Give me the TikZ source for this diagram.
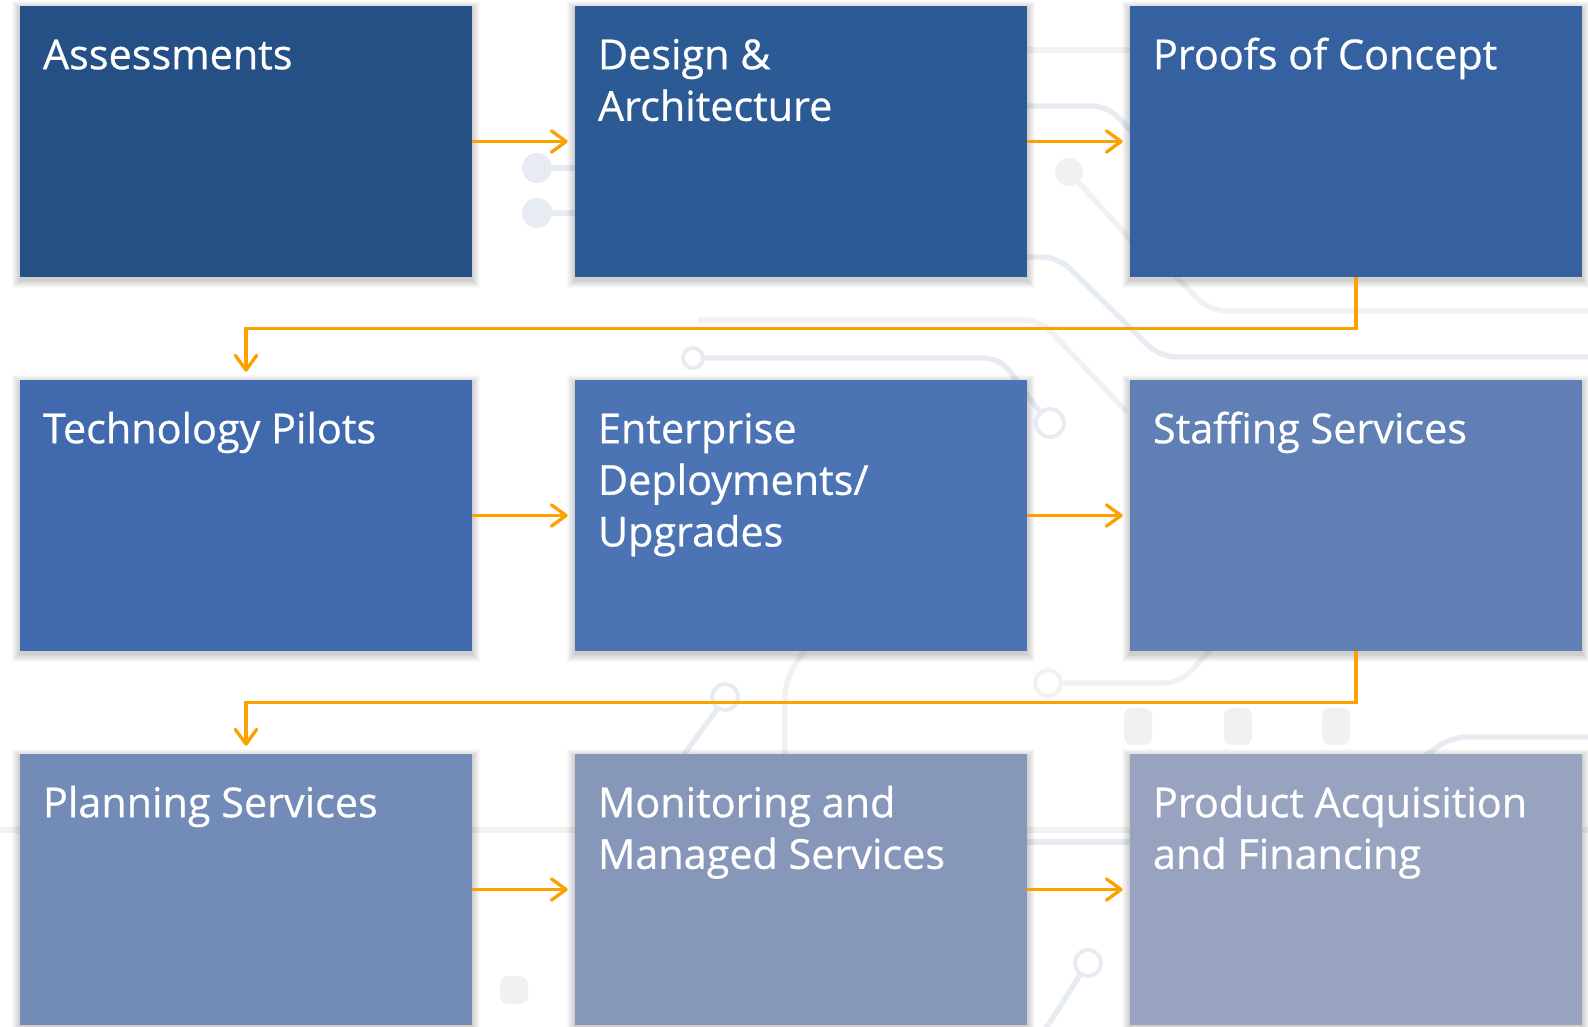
\documentclass[tikz,border=0pt]{standalone}
\usepackage{fontspec}
\setmainfont{Open Sans}
\newfontfamily\cardfont{Open Sans}[FakeBold=0.6]
\usetikzlibrary{arrows.meta,calc,backgrounds}
\definecolor{cA}{HTML}{245086}
\definecolor{cB}{HTML}{2C5A94}
\definecolor{cC}{HTML}{3561A0}
\definecolor{cD}{HTML}{4169AD}
\definecolor{cE}{HTML}{4C74B4}
\definecolor{cF}{HTML}{5F7FB5}
\definecolor{cG}{HTML}{738BB7}
\definecolor{cH}{HTML}{8797B9}
\definecolor{cI}{HTML}{98A4BF}
\definecolor{flowor}{HTML}{FBA200}
\definecolor{tb}{HTML}{E7ECF3}
\definecolor{tg}{HTML}{F1F2F0}
\tikzset{
  card/.style={rectangle, inner sep=0pt, minimum width=339pt, minimum height=203.25pt},
  cardtext/.style={anchor=base west, inner sep=0pt, text=white,
    font=\cardfont\fontsize{31pt}{38.7pt}\selectfont},
  flow/.style={draw=flowor, line width=2.5pt,
    -{Straight Barb[length=11pt,width=16pt,round]}},
  trace/.style={line width=4pt, rounded corners=12pt, line cap=round},
  ring/.style={line width=3pt},
}
\begin{document}
\begin{tikzpicture}[x=0.75pt,y=-0.75pt]
\useasboundingbox (0,0) rectangle (1588,1027);
% boxes
\node[card, fill=cA] (b1) at (246,141.5) {};
\node[card, fill=cB] (b2) at (801,141.5) {};
\node[card, fill=cC] (b3) at (1356,141.5) {};
\node[card, fill=cD] (b4) at (246,515.5) {};
\node[card, fill=cE] (b5) at (801,515.5) {};
\node[card, fill=cF] (b6) at (1356,515.5) {};
\node[card, fill=cG] (b7) at (246,889.5) {};
\node[card, fill=cH] (b8) at (801,889.5) {};
\node[card, fill=cI] (b9) at (1356,889.5) {};
% texts
\node[cardtext] (t1) at ($(b1.north west)+(23,63.5)$) {\vtop{\hbox{Assessments}}};
\node[cardtext] (t2) at ($(b2.north west)+(23,63.5)$) {\vtop{\hbox{Design \&}\hbox{Architecture}}};
\node[cardtext] (t3) at ($(b3.north west)+(23,63.5)$) {\vtop{\hbox{Proofs of Concept}}};
\node[cardtext] (t4) at ($(b4.north west)+(23,63.5)$) {\vtop{\hbox{Technology Pilots}}};
\node[cardtext] (t5) at ($(b5.north west)+(23,63.5)$) {\vtop{\hbox{Enterprise}\hbox{Deployments/}\hbox{Upgrades}}};
\node[cardtext] (t6) at ($(b6.north west)+(23,63.5)$) {\vtop{\hbox{Staffing Services}}};
\node[cardtext] (t7) at ($(b7.north west)+(23,63.5)$) {\vtop{\hbox{Planning Services}}};
\node[cardtext] (t8) at ($(b8.north west)+(23,63.5)$) {\vtop{\hbox{Monitoring and}\hbox{Managed Services}}};
\node[cardtext] (t9) at ($(b9.north west)+(23,63.5)$) {\vtop{\hbox{Product Acquisition}\hbox{and Financing}}};
% connectors
\draw[flow, shorten >=5.25pt] (b1.east) -- (b2.west);
\draw[flow, shorten >=5.25pt] (b2.east) -- (b3.west);
\draw[flow, shorten >=6pt] (b3.south) -- ++(0,51) -| (b4.north);
\draw[flow, shorten >=5.25pt] (b4.east) -- (b5.west);
\draw[flow, shorten >=5.25pt] (b5.east) -- (b6.west);
\draw[flow, shorten >=6pt] (b6.south) -- ++(0,51) -| (b7.north);
\draw[flow, shorten >=5.25pt] (b7.east) -- (b8.west);
\draw[flow, shorten >=5.25pt] (b8.east) -- (b9.west);
% background: faint circuit traces and shadows
\begin{scope}[on background layer]
\fill[white] (0,0) rectangle (1588,1027);
\fill[tb] (537,168) circle (15); \draw[trace,tb] (537,168) -- (620,168);
\fill[tb] (537,213) circle (15); \draw[trace,tb] (537,213) -- (620,213);
\draw[trace,tg] (1000,50) -- (1140,50);
\draw[trace,tb] (1000,106) -- (1108,106) -- (1180,185);
\fill[tg] (1069,172) circle (14); \draw[trace,tg] (1069,172) -- (1140,250);
\draw[trace,tb] (1000,257) -- (1058,257) -- (1160,357) -- (1600,357);
\draw[trace,tg] (700,320) -- (1040,320) -- (1125,410);
\draw[trace,tg] (1150,250) -- (1210,311) -- (1600,311);
\draw[ring,tb] (693,358) circle (10); \draw[trace,tb] (703,358) -- (1000,358) -- (1040,412);
\draw[ring,tb] (1050,423) circle (14);
\draw[ring,tb] (725,697) circle (13); \draw[trace,tb] (718,708) -- (680,760);
\draw[ring,tg] (1048,683) circle (13); \draw[trace,tg] (1061,683) -- (1180,683) -- (1215,645);
\fill[tg, rounded corners=6pt] (1124,708) rectangle (1152,745);
\fill[tg, rounded corners=6pt] (1224,708) rectangle (1252,745);
\fill[tg, rounded corners=6pt] (1322,708) rectangle (1350,745);
\draw[trace,tg] (785,760) -- (785,680) -- (805,650);
\draw[trace,tb] (1420,760) -- (1450,737) -- (1600,737);
\draw[trace,tg] (0,830) -- (1600,830);
\draw[trace,tb] (1000,842) -- (1140,842);
\fill[tg, rounded corners=6pt] (500,976) rectangle (528,1004);
\draw[ring,tb] (1088,963) circle (13); \draw[trace,tb] (1080,975) -- (1045,1030);
\foreach \n in {b1,b2,b3,b4,b5,b6,b7,b8,b9}{
  \foreach \i in {1,...,8}{
    \fill[black, opacity=0.025] ($(\n.north west)+(-\i,-\i+3)$) rectangle ($(\n.south east)+(\i,\i+3)$);
  }
}
\end{scope}
\end{tikzpicture}
\end{document}
